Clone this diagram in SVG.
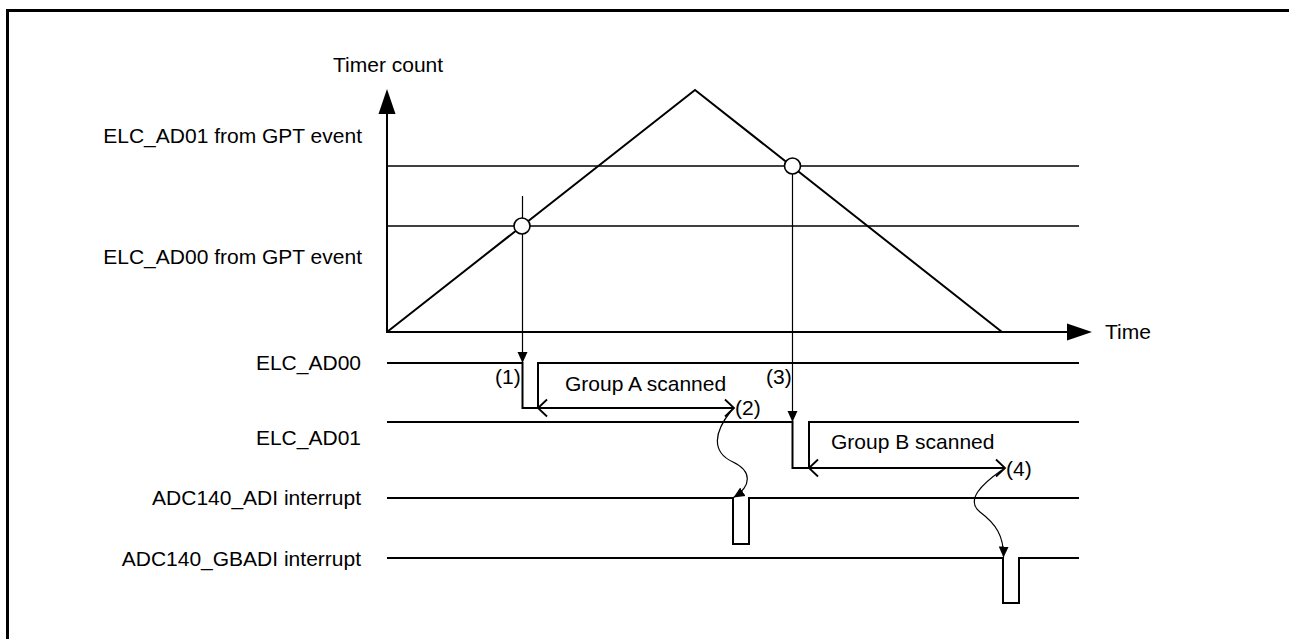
<svg xmlns="http://www.w3.org/2000/svg" width="1289" height="639" viewBox="0 0 1289 639">
<style>
text{font-family:"Liberation Sans",Arial,sans-serif;font-size:21px;fill:#000}
.r{text-anchor:end}
.ln{fill:none;stroke:#000;stroke-width:2}
.thin{fill:none;stroke:#000;stroke-width:1.3}
.conn{fill:none;stroke:#000;stroke-width:1.2}
</style>
<defs>
<marker id="axisArrow" markerUnits="userSpaceOnUse" markerWidth="26" markerHeight="18" viewBox="0 0 26 18" refX="0" refY="9" orient="auto"><path d="M0,0.5 L25,9 L0,17.5 z" fill="#000"/></marker>
<marker id="fillArrow" markerUnits="userSpaceOnUse" markerWidth="12" markerHeight="11" viewBox="0 0 12 11" refX="11" refY="5.5" orient="auto"><path d="M0,0.5 L11,5.5 L0,10.5 z" fill="#000"/></marker>
<marker id="openArrow" markerUnits="userSpaceOnUse" markerWidth="12" markerHeight="20" viewBox="0 0 12 20" refX="10" refY="10" orient="auto-start-reverse"><path d="M1,1.5 L10,10 L1,18.5" fill="none" stroke="#000" stroke-width="1.8"/></marker>
</defs>
<path d="M7.5,639 L7.5,10.5 L1289,10.5" fill="none" stroke="#000" stroke-width="3"/>
<g id="axes">
<line class="ln" x1="387" y1="332" x2="387" y2="114" marker-end="url(#axisArrow)"/>
<line class="ln" x1="386" y1="332" x2="1067" y2="332" marker-end="url(#axisArrow)"/>
<text x="333" y="72">Timer count</text>
<text x="1105" y="339">Time</text>
</g>
<g id="thresholds">
<line class="thin" x1="387" y1="166" x2="1079" y2="166"/>
<line class="thin" x1="387" y1="226" x2="1079" y2="226"/>
<text class="r" x="362" y="143">ELC_AD01 from GPT event</text>
<text class="r" x="362" y="264">ELC_AD00 from GPT event</text>
</g>
<g id="timer-waveform">
<polyline class="ln" points="387,332 695,90 1002,332"/>
</g>
<g id="sig-elc-ad00">
<polyline class="ln" points="387,363 522.5,363 522.5,408 538,408 538,363 1079,363"/>
<text class="r" x="361" y="370">ELC_AD00</text>
</g>
<g id="sig-elc-ad01">
<polyline class="ln" points="387,422 792.5,422 792.5,468 809,468 809,422 1079,422"/>
<text class="r" x="361" y="445">ELC_AD01</text>
</g>
<g id="sig-adi">
<polyline class="ln" points="387,498 733,498 733,544 749,544 749,498 1079,498"/>
<text class="r" x="361" y="505">ADC140_ADI interrupt</text>
</g>
<g id="sig-gbadi">
<polyline class="ln" points="387,558 1003,558 1003,603 1019,603 1019,558 1079,558"/>
<text class="r" x="361" y="566">ADC140_GBADI interrupt</text>
</g>
<g id="connectors">
<line class="conn" x1="522.5" y1="196" x2="522.5" y2="363" marker-end="url(#fillArrow)"/>
<line class="conn" x1="792.5" y1="174" x2="792.5" y2="422" marker-end="url(#fillArrow)"/>
<line class="ln" x1="538" y1="408" x2="734" y2="408" marker-start="url(#openArrow)" marker-end="url(#openArrow)"/>
<line class="ln" x1="809" y1="468" x2="1005" y2="468" marker-start="url(#openArrow)" marker-end="url(#openArrow)"/>
<path class="conn" d="M731,411 C714,432 711,452 733,462 C752,471 752,486 733.5,497.5" marker-end="url(#fillArrow)"/>
<path class="conn" d="M1002,470 C982,484 965,500 980,512 C996,524 1004,536 1003.5,557.5" marker-end="url(#fillArrow)"/>
</g>
<g id="points">
<circle cx="522" cy="226" r="8" fill="#fff" stroke="#000" stroke-width="1.6"/>
<circle cx="792.5" cy="166" r="8" fill="#fff" stroke="#000" stroke-width="1.6"/>
</g>
<g id="labels">
<text x="565" y="391">Group A scanned</text>
<text x="831" y="449">Group B scanned</text>
<text x="495" y="384">(1)</text>
<text x="735" y="415">(2)</text>
<text x="766" y="384">(3)</text>
<text x="1006" y="476">(4)</text>
</g>
</svg>
